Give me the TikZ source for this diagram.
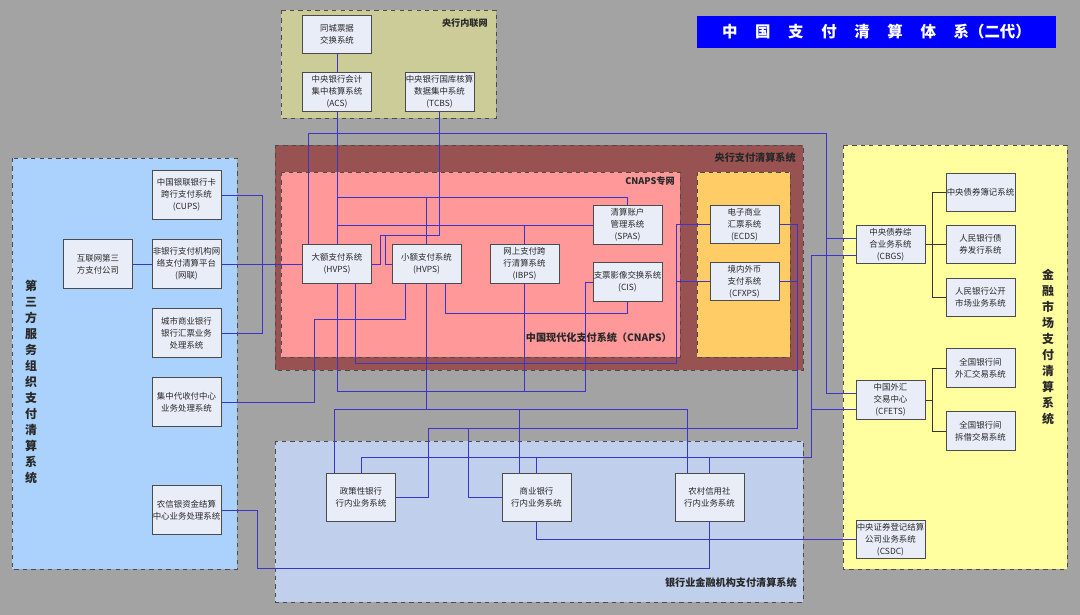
\documentclass[tikz,border=0pt]{standalone}
\usepackage{fontspec}
\setmainfont{Noto Sans CJK SC}
\definecolor{paybg}{RGB}{163,163,163}
\definecolor{payolive}{RGB}{204,204,153}
\definecolor{paydark}{RGB}{152,82,82}
\definecolor{paypink}{RGB}{255,153,153}
\definecolor{payorange}{RGB}{255,204,102}
\definecolor{paysky}{RGB}{170,210,252}
\definecolor{paysteel}{RGB}{192,207,236}
\definecolor{payyellow}{RGB}{255,255,160}
\definecolor{paybox}{RGB}{233,237,248}
\definecolor{payedge}{RGB}{75,75,75}
\definecolor{paytext}{RGB}{40,40,40}
\definecolor{paywire}{RGB}{58,52,205}
\definecolor{paylink}{RGB}{55,55,55}
\definecolor{paytitle}{RGB}{0,0,255}
\newcommand{\tgap}{\hspace{0.44cm}}
\tikzset{
  sysbox/.style={
    rectangle,
    draw=payedge,
    fill=paybox,
    text=paytext,
    line width=0.7pt,
    minimum width=1.725cm,
    minimum height=0.95cm,
    inner xsep=0pt,
    inner ysep=1pt,
    align=center,
    font=\fontsize{6}{8.6}\selectfont
  },
  tallbox/.style={
    sysbox,
    minimum height=1.2cm
  },
  zone/.style={
    draw=payedge,
    dashed,
    line width=0.6pt
  },
  zonelabel/.style={
    anchor=east,
    inner sep=0pt,
    text=paytext,
    font=\bfseries\fontsize{6.5}{8}\selectfont
  },
  biglabel/.style={
    zonelabel,
    font=\bfseries\fontsize{7.2}{9}\selectfont
  },
  vlabel/.style={
    inner sep=0pt,
    align=center,
    text=paytext,
    font=\bfseries\fontsize{8.5}{11.4}\selectfont
  },
  titlebox/.style={
    rectangle,
    fill=paytitle,
    text=white,
    minimum width=8.975cm,
    minimum height=0.8cm,
    font=\bfseries\fontsize{11}{13}\selectfont
  },
  wire/.style={
    draw=paywire,
    line width=0.5pt
  },
  link/.style={
    draw=paylink,
    line width=0.5pt
  }
}

\begin{document}
\begin{tikzpicture}[x=0.025cm, y=-0.025cm]
  \useasboundingbox (0,0) rectangle (1080,615);
  \fill[paybg] (0,0) rectangle (1080,615);

  % zones
  \draw[zone, fill=payolive] (281,10) rectangle (496,118);
  \draw[zone, fill=paydark] (275,145) rectangle (803,370);
  \draw[zone, fill=paypink] (281,172) rectangle (680,357);
  \draw[zone, fill=payorange] (697,172) rectangle (790,357);
  \draw[zone, fill=paysky] (12,158) rectangle (237,569);
  \draw[zone, fill=paysteel] (275,441) rectangle (803,602);
  \draw[zone, fill=payyellow] (843,145) rectangle (1067,569);

  \node[zonelabel] (lblnet) at (488,23) {央行内联网};
  \node[biglabel] (lblpbc) at (796,158) {央行支付清算系统};
  \node[zonelabel] (lblcnet) at (675,181) {CNAPS专网};
  \node[biglabel] (lblcnaps) at (672,338) {中国现代化支付系统（CNAPS）};
  \node[biglabel] (lblbank) at (797,583) {银行业金融机构支付清算系统};
  \node[vlabel] (lblthird) at (31,382)
    {第\\三\\方\\服\\务\\组\\织\\支\\付\\清\\算\\系\\统};
  \node[vlabel] (lblmkt) at (1048,347)
    {金\\融\\市\\场\\支\\付\\清\\算\\系\\统};

  \node[titlebox] (title) at (876.5,32)
    {中\tgap 国\tgap 支\tgap 付\tgap 清\tgap 算\tgap 体\tgap 系（二代）};

  % central bank intranet
  \node[sysbox] (tcpj) at (337,34.5) {同城票据\\交换系统};
  \node[sysbox] (acs) at (337,92) {中央银行会计\\集中核算系统\\(ACS)};
  \node[sysbox] (tcbs) at (439.5,92) {中央银行国库核算\\数据集中系统\\(TCBS)};

  % CNAPS
  \node[sysbox] (hvps) at (337,264) {大额支付系统\\(HVPS)};
  \node[sysbox] (bhps) at (426.5,264) {小额支付系统\\(HVPS)};
  \node[sysbox] (ibps) at (524.5,264) {网上支付跨\\行清算系统\\(IBPS)};
  \node[sysbox] (spas) at (627.5,225) {清算账户\\管理系统\\(SPAS)};
  \node[sysbox] (cis) at (627.5,282) {支票影像交换系统\\(CIS)};
  \node[sysbox] (ecds) at (744.5,224.5) {电子商业\\汇票系统\\(ECDS)};
  \node[sysbox] (cfxps) at (744.5,281.5) {境内外币\\支付系统\\(CFXPS)};

  % third party
  \node[tallbox] (cups) at (186.5,195) {中国银联银行卡\\跨行支付系统\\(CUPS)};
  \node[tallbox] (hlw) at (98,264) {互联网第三\\方支付公司};
  \node[tallbox] (wl) at (186.5,264) {非银行支付机构网\\络支付清算平台\\(网联)};
  \node[tallbox] (csyh) at (186.5,333) {城市商业银行\\银行汇票业务\\处理系统};
  \node[tallbox] (jzds) at (186.5,402) {集中代收付中心\\业务处理系统};
  \node[tallbox] (nxy) at (186.5,510) {农信银资金结算\\中心业务处理系统};

  % banks
  \node[tallbox] (zcx) at (361,497.5) {政策性银行\\行内业务系统};
  \node[tallbox] (syyh) at (536.5,497.5) {商业银行\\行内业务系统};
  \node[tallbox] (ncxys) at (709.5,497.5) {农村信用社\\行内业务系统};

  % financial market
  \node[sysbox] (cbgs) at (890.5,244.5) {中央债券综\\合业务系统\\(CBGS)};
  \node[sysbox] (zzbj) at (980.5,192.5) {中央债券簿记系统};
  \node[sysbox] (rmfx) at (980.5,244.5) {人民银行债\\券发行系统};
  \node[sysbox] (gksc) at (980.5,297.5) {人民银行公开\\市场业务系统};
  \node[sysbox] (cfets) at (890.5,400) {中国外汇\\交易中心\\(CFETS)};
  \node[sysbox] (wh) at (980.5,368) {全国银行间\\外汇交易系统};
  \node[sysbox] (cj) at (980.5,431) {全国银行间\\拆借交易系统};
  \node[sysbox] (csdc) at (890.5,539.5) {中央证券登记结算\\公司业务系统\\(CSDC)};

  % connectors
  \draw[wire] (tcpj) -- (acs);
  \draw[wire] (acs) -- (hvps);
  \draw[wire] (acs.south) |- (spas.north |- 0,197) -- (spas.north);
  \draw[wire] (acs.south) |- (bhps.north |- 0,197) -- (bhps.north);
  \draw[wire] (acs.south) |- (spas.west);
  \draw[wire] (acs.south) |- (ibps.north |- spas.west) -- (ibps.north);
  \draw[wire] (tcbs.south) |- (380,235) |- (hvps.east);
  \draw[wire] (tcbs.south) |- (385,235) |- (bhps.west);
  \draw[wire] (hvps.south) |- (585,391) |- (cis.west);
  \draw[wire] (ibps.south) |- (585,391) |- (cis.west);
  \draw[wire] (hvps.south -| 355,0) |- (676,363) |- (ecds.west);
  \draw[wire] (hvps.south -| 355,0) |- (676,363) |- (cfxps.west);
  \draw[wire] (bhps.south -| 445,0) |- (cis.south |- 0,313) -- (cis.south);
  \draw[wire] (bhps.south -| 405,0) |- (314,319) |- (jzds.east);
  \draw[wire] (bhps.south) |- (334,409) -- (zcx.north -| 334,0);
  \draw[wire] (bhps.south) |- (519,409) -- (syyh.north -| 519,0);
  \draw[wire] (bhps.south) |- (687,409) -- (ncxys.north -| 687,0);
  \draw[wire] (ecds.east) -| (797,428) -- (428,428) |- (zcx.east);
  \draw[wire] (cfxps.east) -| (797,428) -- (468,428) |- (syyh.west);
  \draw[wire] (cbgs.west |- 0,255) -| (811,457) -| (zcx.north);
  \draw[wire] (cbgs.west |- 0,255) -| (811,457) -| (syyh.north);
  \draw[wire] (cfets.west |- 0,409) -| (811,457) -| (ncxys.north);
  \draw[wire] (hvps.north -| 308,0) |- (826,133) |- (cfets.west |- 0,393);
  \draw[wire] (hvps.north -| 308,0) |- (826,133) |- (cbgs.west |- 0,238);
  \draw[wire] (hlw) -- (wl);
  \draw[wire] (wl) -- (hvps);
  \draw[wire] (cups.east) -| (csyh.east -| 262,0) -- (csyh.east);
  \draw[wire] (syyh.south) |- (csdc.west);
  \draw[wire] (ncxys.south) |- (257,568) |- (nxy.east);

  \draw[link] (cbgs) -- (rmfx);
  \draw[link] (cbgs.east) -- (cbgs.east -| 932,0) |- (zzbj.west);
  \draw[link] (cbgs.east) -- (cbgs.east -| 932,0) |- (gksc.west);
  \draw[link] (cfets.east) -- (cfets.east -| 932,0) |- (wh.west);
  \draw[link] (cfets.east) -- (cfets.east -| 932,0) |- (cj.west);
\end{tikzpicture}
\end{document}
